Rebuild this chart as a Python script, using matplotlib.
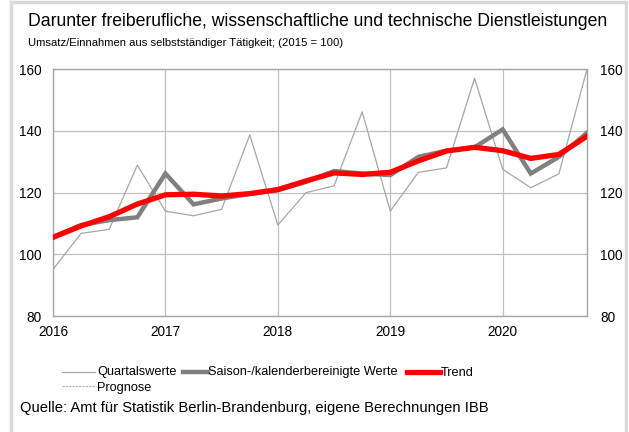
import matplotlib
matplotlib.use("Agg")
import matplotlib.pyplot as plt
from matplotlib.lines import Line2D

plt.rcParams['font.family'] = ['Liberation Sans', 'DejaVu Sans']

quarters = [2016 + k / 4 for k in range(20)]
quartalswerte = [95.1, 106.8, 108.1, 128.9, 114.0, 112.5, 114.6, 138.7, 109.5, 120.0,
                 122.2, 146.2, 114.0, 126.6, 128.0, 157.1, 127.6, 121.6, 126.1, 160.0]
saisonbereinigt = [105.6, 109.5, 111.1, 112.0, 126.2, 116.2, 118.1, 119.6, 120.8, 123.5,
                   127.0, 126.2, 125.7, 131.6, 133.6, 134.7, 140.5, 126.2, 131.6, 139.4]
trend = [105.5, 109.2, 112.2, 116.3, 119.3, 119.5, 118.9, 119.7, 121.0, 123.8,
         126.4, 125.9, 126.6, 130.3, 133.5, 134.7, 133.6, 131.1, 132.4, 138.3]
year_ticks = [2016, 2017, 2018, 2019, 2020]
y_ticks = [80, 100, 120, 140, 160]

title = "Darunter freiberufliche, wissenschaftliche und technische Dienstleistungen"
subtitle = "Umsatz/Einnahmen aus selbstständiger Tätigkeit; (2015 = 100)"
source = "Quelle: Amt für Statistik Berlin-Brandenburg, eigene Berechnungen IBB"

W, H = 629, 432
fig = plt.figure(figsize=(W / 100, H / 100), dpi=100)
fig.patch.set_facecolor('white')

# light grey frame
border = '#d9d9d9'
fig.add_artist(Line2D([10.5 / W, 10.5 / W], [0, 1 - 2 / H], transform=fig.transFigure, color=border, lw=2.5))
fig.add_artist(Line2D([10.5 / W, 626 / W], [1 - 2 / H, 1 - 2 / H], transform=fig.transFigure, color=border, lw=2.5))
fig.add_artist(Line2D([626 / W, 626 / W], [0, 1 - 2 / H], transform=fig.transFigure, color=border, lw=2.5))

ax = fig.add_axes([53 / W, 1 - 316 / H, (587 - 53) / W, (316 - 69.3) / H])
ax.plot(quarters, quartalswerte, color='#a6a6a6', lw=0.9, zorder=3)
ax.plot(quarters, saisonbereinigt, color='#808080', lw=3.2, zorder=4, solid_joinstyle='miter')
ax.plot(quarters, trend, color='#ff0000', lw=3.8, zorder=5)

ax.set_xlim(2016, 2020.75)
ax.set_ylim(80, 160)
ax.set_xticks(year_ticks)
ax.set_xticklabels([str(y) for y in year_ticks])
ax.set_yticks(y_ticks)
ax.grid(True, color='#c0c0c0', lw=0.9)
ax.set_axisbelow(True)
for s in ax.spines.values():
    s.set_color('#a6a6a6')
    s.set_linewidth(1.0)
ax.tick_params(axis='both', length=0, labelsize=9.8, colors='black')
ax.tick_params(axis='x', pad=6.5)
ax.tick_params(axis='y', pad=8)

ax2 = ax.twinx()
ax2.set_ylim(80, 160)
ax2.set_yticks(y_ticks)
ax2.tick_params(axis='y', length=0, labelsize=9.8, pad=9.5)
for s in ax2.spines.values():
    s.set_visible(False)

fig.text(28 / W, 1 - 22 / H, title, fontsize=12.7, va='center', ha='left')
fig.text(28 / W, 1 - 43 / H, subtitle, fontsize=8.1, va='center', ha='left')
fig.text(20 / W, 1 - 408 / H, source, fontsize=10.6, va='center', ha='left')

# legend
def leg_line(x0, x1, y, **kw):
    fig.add_artist(Line2D([x0 / W, x1 / W], [1 - y / H, 1 - y / H], transform=fig.transFigure, **kw))

lfs = 9.2
leg_line(62, 95, 372, color='#a6a6a6', lw=0.9)
fig.text(97 / W, 1 - 372.5 / H, "Quartalswerte", fontsize=lfs, va='center')
leg_line(183, 208, 372, color='#808080', lw=3.2)
fig.text(208 / W, 1 - 372.5 / H, "Saison-/kalenderbereinigte Werte", fontsize=lfs, va='center')
leg_line(407, 440, 372, color='#ff0000', lw=3.8)
fig.text(441 / W, 1 - 372.5 / H, "Trend", fontsize=lfs, va='center')
leg_line(62, 95, 386, color='#b0b0b0', lw=0.8, linestyle=(0, (2, 1)))
fig.text(97 / W, 1 - 387.5 / H, "Prognose", fontsize=lfs, va='center')

fig.savefig('out.png', dpi=100, facecolor='white')
